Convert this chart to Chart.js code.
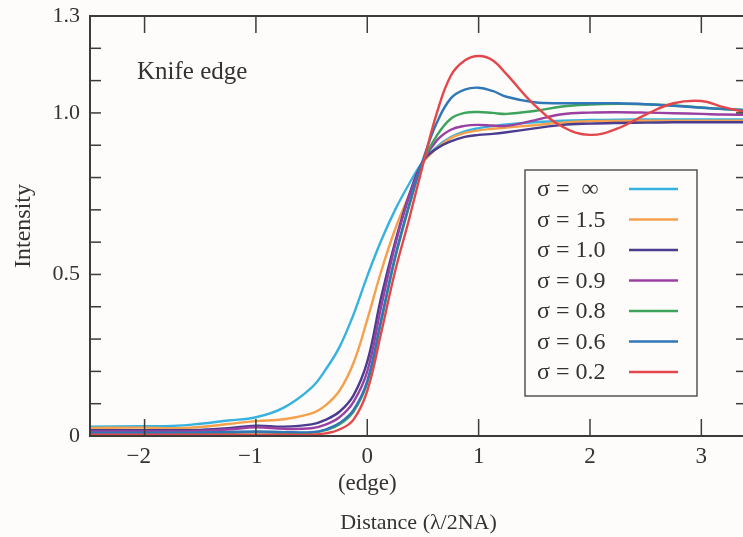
<!DOCTYPE html>
<html><head><meta charset="utf-8">
<script src="https://cdn.jsdelivr.net/npm/chart.js@4.4.1/dist/chart.umd.min.js"></script>
<style>
html,body{margin:0;padding:0;overflow:hidden;background:#fdfcfa;width:743px;height:537px}
#wrap{position:relative;width:760px;height:537px}
canvas{display:block}
</style></head><body>
<div id="wrap"><canvas id="c" width="760" height="537" style="width:760px;height:537px"></canvas></div>
<script>
// ---- data ----
const distance = [-2.5, -2, -1.75, -1.5, -1.25, -1, -0.75, -0.5, -0.375, -0.25, -0.125, 0, 0.125, 0.25, 0.375, 0.5, 0.625, 0.75, 0.875, 1, 1.125, 1.25, 1.5, 1.75, 2, 2.25, 2.5, 2.75, 3, 3.2, 3.45];
const sigmaInf = [0.029, 0.030, 0.031, 0.038, 0.048, 0.058, 0.088, 0.15, 0.205, 0.275, 0.375, 0.495, 0.605, 0.70, 0.78, 0.85, 0.895, 0.925, 0.943, 0.953, 0.959, 0.964, 0.971, 0.976, 0.978, 0.979, 0.98, 0.98, 0.98, 0.98, 0.98];
const sigma15  = [0.025, 0.026, 0.024, 0.028, 0.037, 0.046, 0.052, 0.07, 0.095, 0.14, 0.225, 0.36, 0.51, 0.64, 0.745, 0.845, 0.89, 0.922, 0.938, 0.946, 0.951, 0.955, 0.962, 0.97, 0.974, 0.975, 0.976, 0.976, 0.976, 0.976, 0.976];
const sigma10  = [0.018, 0.018, 0.018, 0.019, 0.024, 0.032, 0.029, 0.036, 0.05, 0.075, 0.125, 0.23, 0.43, 0.60, 0.745, 0.85, 0.89, 0.912, 0.926, 0.932, 0.935, 0.94, 0.952, 0.963, 0.967, 0.969, 0.97, 0.971, 0.971, 0.971, 0.971];
const sigma09  = [0.014, 0.014, 0.014, 0.016, 0.02, 0.027, 0.022, 0.024, 0.035, 0.058, 0.105, 0.20, 0.40, 0.59, 0.74, 0.85, 0.915, 0.948, 0.96, 0.963, 0.961, 0.96, 0.977, 0.996, 1.001, 1.002, 1.001, 0.999, 0.997, 0.995, 0.994];
const sigma08  = [0.008, 0.008, 0.008, 0.009, 0.01, 0.012, 0.01, 0.01, 0.018, 0.036, 0.075, 0.165, 0.355, 0.55, 0.71, 0.85, 0.93, 0.982, 1.0, 1.003, 1.0, 0.997, 1.006, 1.02, 1.026, 1.028, 1.027, 1.023, 1.017, 1.012, 1.008];
const sigma06  = [0.01, 0.01, 0.01, 0.011, 0.012, 0.014, 0.012, 0.012, 0.02, 0.04, 0.08, 0.17, 0.36, 0.555, 0.715, 0.855, 0.97, 1.045, 1.072, 1.078, 1.068, 1.05, 1.033, 1.03, 1.03, 1.03, 1.027, 1.022, 1.016, 1.012, 1.008];
const sigma02  = [0.004, 0.004, 0.004, 0.004, 0.004, 0.004, 0.004, 0.004, 0.008, 0.02, 0.05, 0.14, 0.32, 0.51, 0.67, 0.84, 1.0, 1.115, 1.162, 1.176, 1.163, 1.12, 1.025, 0.958, 0.932, 0.952, 0.995, 1.03, 1.037, 1.018, 0.998];
const seriesLabels = ['σ =  ∞', 'σ = 1.5', 'σ = 1.0', 'σ = 0.9', 'σ = 0.8', 'σ = 0.6', 'σ = 0.2'];
const seriesValues = [sigmaInf, sigma15, sigma10, sigma09, sigma08, sigma06, sigma02];
const seriesColors = ['#36b2e0', '#f4a04c', '#4a3c8e', '#9a40a2', '#3da35d', '#2f77b6', '#e4474b'];
const yLabelValues = [0, 0.5, 1.0, 1.3];
const yLabelText = ['0', '0.5', '1.0', '1.3'];
const xTitle = 'Distance (λ/2NA)';
const yTitle = 'Intensity';
const noteText = 'Knife edge';

const SERIF = '"Liberation Serif", "Times New Roman", serif';
const INK = '#333333';

const datasets = seriesValues.map((vals, i) => ({
  label: seriesLabels[i],
  data: distance.map((d, k) => ({x: d, y: vals[k]})),
  borderColor: seriesColors[i],
  backgroundColor: seriesColors[i],
  borderWidth: 2.4,
  pointRadius: 0,
  fill: false,
  tension: 0.4,
  order: seriesValues.length - 1 - i
}));

const decor = {
  id: 'decor',
  beforeDraw(chart) {
    const c = chart.ctx;
    c.save();
    c.fillStyle = '#fdfcfa';
    c.fillRect(0, 0, chart.width, chart.height);
    c.restore();
  },
  afterDatasetsDraw(chart) {
    const c = chart.ctx;
    const {left, right, top, bottom} = chart.chartArea;
    const xs = chart.scales.x, ys = chart.scales.y;
    c.save();
    c.strokeStyle = '#3c3c3c';
    c.lineWidth = 2;
    c.strokeRect(left, top, right - left, bottom - top);
    c.lineWidth = 1.5;
    const seg = (a, b, p, q) => { c.beginPath(); c.moveTo(a, b); c.lineTo(p, q); c.stroke(); };
    xs.ticks.forEach(t => {
      if (Math.abs(t.value - Math.round(t.value)) < 1e-6) {
        const px = xs.getPixelForValue(t.value);
        seg(px, bottom, px, bottom - 17);
        seg(px, top, px, top + 17);
      }
    });
    ys.ticks.forEach(t => {
      const py = ys.getPixelForValue(t.value);
      seg(left, py, left + 11, py);
      seg(right, py, right - 11, py);
    });
    // note
    c.fillStyle = INK;
    c.font = '25px ' + SERIF;
    c.textBaseline = 'middle';
    c.textAlign = 'left';
    c.fillText(noteText, 137, 72);
    // legend
    const bx = 525, by = 170, bw = 172, bh = 226;
    c.strokeStyle = '#555555';
    c.lineWidth = 1.5;
    c.strokeRect(bx, by, bw, bh);
    c.font = '24px ' + SERIF;
    chart.data.datasets.forEach((ds, i) => {
      const ry = 189 + i * 30.5;
      c.fillStyle = INK;
      c.fillText(ds.label, 537, ry + 1);
      c.strokeStyle = ds.borderColor;
      c.lineWidth = 2.4;
      seg(629, ry, 678, ry);
    });
    c.restore();
  }
};

new Chart(document.getElementById('c').getContext('2d'), {
  type: 'line',
  data: {datasets},
  options: {
    responsive: false,
    animation: false,
    devicePixelRatio: 1,
    layout: {padding: {left: 0, top: 16, right: 13, bottom: 0}},
    plugins: {legend: {display: false}, tooltip: {enabled: false}},
    scales: {
      x: {
        type: 'linear', min: -2.49, max: 3.41,
        grid: {display: false, drawTicks: false},
        border: {display: false},
        ticks: {
          stepSize: 1, includeBounds: false, padding: 7, autoSkip: false, maxRotation: 0, color: INK,
          font: {family: SERIF, size: 23},
          callback(v) {
            if (Math.abs(v - Math.round(v)) > 1e-6) return '';
            const r = Math.round(v);
            if (r === 0) return ['0', '(edge)'];
            return r < 0 ? '\u2212' + Math.abs(r) + '\u2002' : String(r);
          }
        },
        title: {display: true, text: xTitle, color: INK, font: {family: SERIF, size: 22}, padding: {top: 0, bottom: 1}},
        afterFit(s) { s.height = 101; s.paddingLeft = 0; s.paddingRight = 0; }
      },
      y: {
        type: 'linear', min: 0, max: 1.3,
        grid: {display: false, drawTicks: false},
        border: {display: false},
        ticks: {
          stepSize: 0.1, padding: 10, autoSkip: false, color: INK,
          font: {family: SERIF, size: 22},
          callback(v) {
            const k = yLabelValues.findIndex(q => Math.abs(q - v) < 1e-6);
            return k >= 0 ? yLabelText[k] : '';
          }
        },
        title: {display: true, text: yTitle, color: INK, font: {family: SERIF, size: 24}, padding: {top: 9, bottom: 0}},
        afterFit(s) { s.width = 90; s.paddingTop = 0; s.paddingBottom = 0; }
      }
    }
  },
  plugins: [decor]
});
</script>
</body></html>
